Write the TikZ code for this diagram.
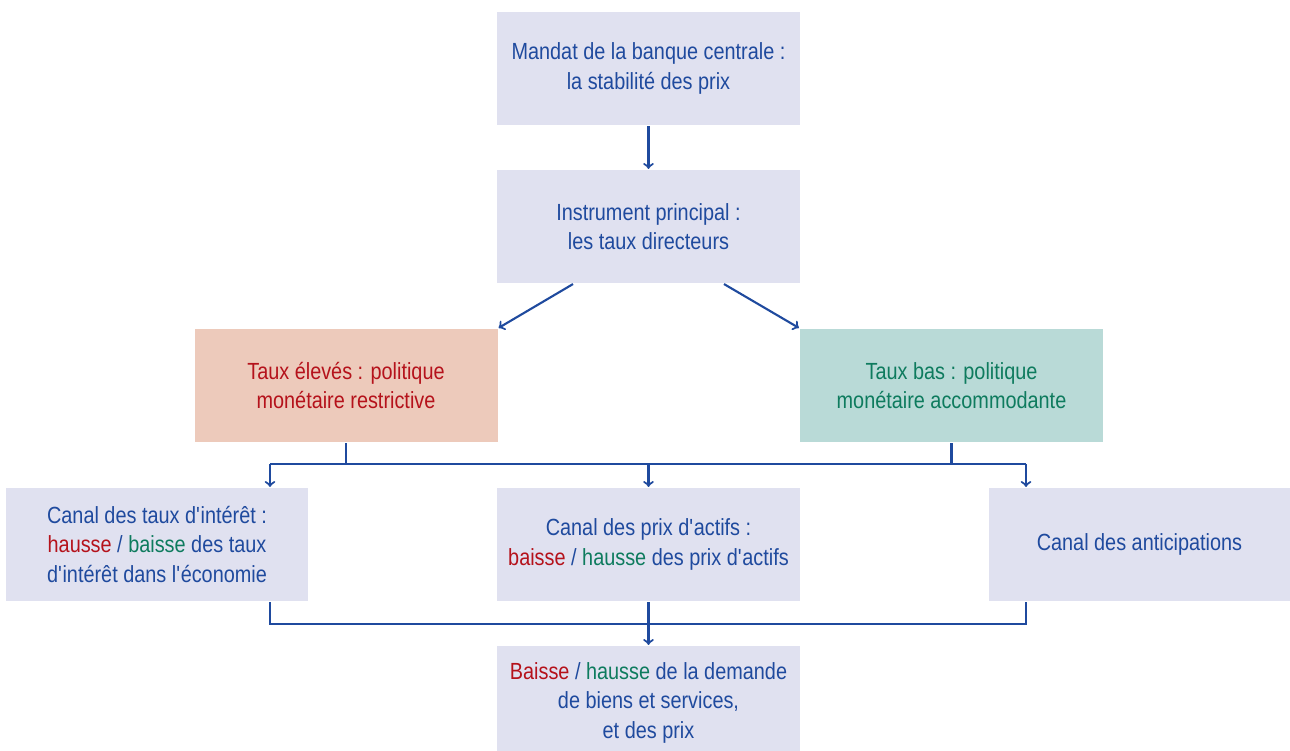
\documentclass[tikz,border=0pt]{standalone}
\usepackage{fontspec}
\setmainfont{Liberation Sans}[FakeStretch=0.85]
\usepackage{tikz}
\usetikzlibrary{positioning,arrows,calc}

\definecolor{bleu}{HTML}{1F4A9E}
\definecolor{rouge}{HTML}{B5121B}
\definecolor{vert}{HTML}{0E7B5E}
\definecolor{lavande}{HTML}{E0E1F0}
\definecolor{saumon}{HTML}{EDCABB}
\definecolor{menthe}{HTML}{B9DAD7}
\newcommand{\apo}{\textquotesingle}

\begin{document}
\begin{tikzpicture}[line width=1.2pt]
\tikzstyle{bx} = [fill=lavande,shape=rectangle,minimum width=6.06cm,minimum height=2.26cm,align=center,text=bleu,font=\fontsize{13.3}{16.8}\selectfont,inner sep=0pt]
\tikzstyle{rbx} = [bx,fill=saumon,text=rouge]
\tikzstyle{gbx} = [bx,fill=menthe,text=vert]
\tikzstyle{fl} = [draw=bleu,->,>=to]
\tikzstyle{ln} = [draw=bleu]
\useasboundingbox (0,0) rectangle (25.8,-15.02);
\node[bx] (mandat) at (12.97,-1.37) {Mandat de la banque centrale :\\la stabilit\'e des prix};
\node[bx] (instr) at (12.97,-4.53) {Instrument principal :\\les taux directeurs};
\node[rbx] (eleve) at (6.92,-7.71) {Taux \'elev\'es : politique\\mon\'etaire restrictive};
\node[gbx] (bas) at (19.03,-7.71) {Taux bas : politique\\mon\'etaire accommodante};
\node[bx,minimum width=6.04cm] (canal1) at (3.14,-10.89) {Canal des taux d\apo int\'er\^et :\\\textcolor{rouge}{hausse} / \textcolor{vert}{baisse} des taux\\d\apo int\'er\^et dans l\apo\'economie};
\node[bx] (canal2) at (12.97,-10.89) {Canal des prix d\apo actifs :\\\textcolor{rouge}{baisse} / \textcolor{vert}{hausse} des prix d\apo actifs};
\node[bx,minimum width=6.02cm] (canal3) at (22.79,-10.89) {Canal des anticipations};
\node[bx] (demande) at (12.97,-14.05) {\textcolor{rouge}{Baisse} / \textcolor{vert}{hausse} de la demande\\de biens et services,\\et des prix};
% jonctions
\coordinate (hl) at (5.4,-9.28);
\coordinate (hr) at (20.52,-9.28);
\coordinate (bl) at (5.4,-12.48);
\coordinate (br) at (20.52,-12.48);
\draw[fl] (mandat) -- (instr);
\draw[fl] ([xshift=-1.51cm]instr.south) -- (eleve.north east);
\draw[fl] ([xshift=1.51cm]instr.south) -- (bas.north west);
\draw[ln] (eleve.south) -- (eleve.south |- hl);
\draw[ln] (bas.south) -- (bas.south |- hr);
\draw[ln] (hl) -- (hr);
\draw[fl] (hl) -- (hl |- canal1.north);
\draw[fl] (instr.south |- hl) -- (canal2.north);
\draw[fl] (hr) -- (hr |- canal3.north);
\draw[ln] (bl |- canal1.south) -- (bl) -- (br) -- (br |- canal3.south);
\draw[ln] (canal2.south) -- (canal2.south |- bl);
\draw[fl] (canal2.south |- bl) -- (demande.north);
\end{tikzpicture}
\end{document}
